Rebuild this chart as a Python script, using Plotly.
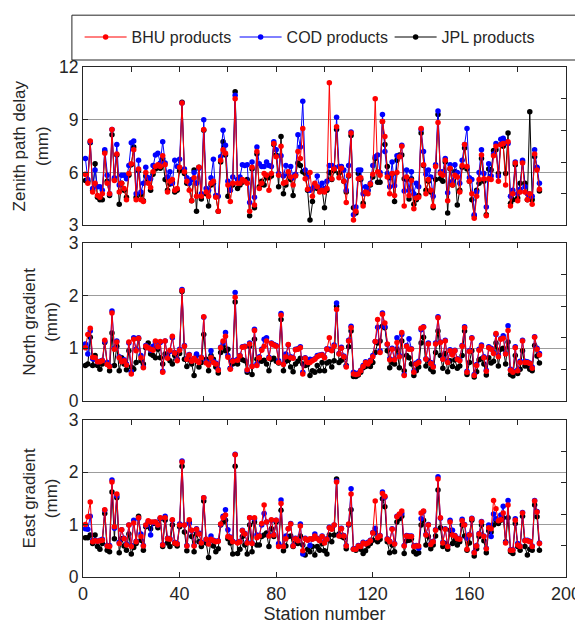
import plotly.graph_objects as go

# station index on the x axis
station = list(range(1, 190))

# Zenith path delay (mm)
zpd_bhu = [5.9, 5.4, 7.8, 4.9, 5.4, 4.7, 4.6, 4.8, 7.1, 5.4,
           4.8, 8.45, 5.55, 7.05, 4.9, 5.4, 5.1, 4.45, 5.95, 6.5,
           7.3, 4.45, 6.2, 4.45, 4.35, 6.0, 5.4, 5.15, 6.05, 6.35,
           6.45, 6.35, 6.95, 6.45, 4.9, 5.5, 5.6, 5.0, 5.1, 6.3,
           9.95, 6.05, 5.5, 5.0, 4.4, 5.7, 4.65, 6.3, 4.65, 8.45,
           4.9, 4.65, 5.4, 5.5, 4.6, 3.8, 6.7, 7.3, 7.1, 5.3,
           4.35, 5.4, 10.2, 5.4, 5.4, 5.6, 5.5, 5.4, 3.8, 6.3,
           4.15, 7.2, 5.1, 5.4, 5.95, 5.85, 5.0, 5.95, 7.65, 6.9,
           5.85, 7.5, 5.4, 5.45, 6.05, 5.75, 5.3, 5.8, 7.2, 6.8,
           8.5, 5.65, 5.05, 6.0, 4.65, 5.4, 5.2, 4.9, 5.0, 4.9,
           5.1, 11.1, 5.65, 6.2, 8.6, 5.7, 6.25, 5.5, 4.3, 5.85,
           8.25, 3.3, 3.8, 5.65, 5.7, 4.1, 4.9, 4.8, 5.35, 5.9,
           10.2, 6.05, 5.85, 8.9, 8.05, 5.75, 4.8, 5.95, 4.7, 6.0,
           6.9, 7.5, 4.1, 5.75, 4.7, 5.55, 3.95, 4.55, 4.6, 8.5,
           6.45, 4.8, 5.6, 5.0, 4.1, 6.35, 8.85, 5.95, 5.85, 6.7,
           4.4, 6.25, 5.3, 5.85, 5.75, 4.9, 6.4, 7.6, 6.35, 5.5,
           4.8, 3.4, 4.65, 5.6, 7.0, 5.65, 3.55, 5.65, 5.6, 6.95,
           7.5, 5.5, 7.6, 7.65, 5.3, 7.75, 4.1, 4.8, 6.55, 4.4,
           4.9, 6.55, 4.9, 4.45, 4.8, 4.2, 7.05, 6.15, 5.05]
zpd_cod = [6.8, 5.6, 7.75, 5.1, 6.15, 5.2, 5.2, 5.0, 7.3, 5.85,
           4.8, 8.45, 5.7, 7.6, 5.3, 5.85, 5.85, 5.65, 6.4, 7.7,
           7.8, 4.8, 6.7, 4.9, 5.4, 6.3, 5.7, 5.65, 6.4, 7.0,
           7.1, 6.55, 7.75, 6.55, 5.75, 6.05, 5.4, 6.7, 6.35, 6.75,
           9.95, 6.2, 5.7, 5.4, 5.6, 6.0, 5.4, 6.25, 4.8, 9.0,
           5.1, 5.0, 5.7, 6.75, 4.7, 4.65, 6.9, 8.4, 7.55, 5.5,
           5.0, 5.75, 10.4, 5.6, 5.75, 6.45, 6.4, 6.45, 4.3, 6.6,
           4.6, 7.45, 6.5, 6.35, 6.35, 6.6, 6.4, 6.35, 7.75, 7.3,
           5.95, 6.95, 5.8, 6.4, 5.95, 6.35, 5.7, 5.9, 8.15, 7.45,
           10.05, 6.15, 5.75, 5.0, 5.1, 5.3, 5.8, 5.15, 5.4, 5.1,
           5.5, 6.4, 6.4, 6.3, 9.15, 6.35, 6.35, 6.15, 5.0, 6.4,
           8.3, 3.6, 4.05, 6.15, 6.15, 4.8, 5.2, 5.0, 5.4, 6.4,
           6.9, 7.0, 6.0, 9.3, 7.2, 5.95, 5.2, 6.6, 5.25, 6.95,
           6.9, 7.55, 4.95, 6.15, 5.0, 6.05, 4.8, 5.4, 5.2, 8.45,
           7.2, 5.9, 6.15, 5.75, 4.65, 6.45, 9.5, 6.05, 6.05, 6.8,
           4.85, 6.45, 5.5, 6.45, 6.0, 5.4, 6.7, 7.6, 8.5, 5.7,
           5.6, 3.6, 4.9, 6.0, 7.3, 5.95, 4.05, 6.5, 5.8, 7.05,
           7.65, 5.8, 7.9, 7.95, 7.75, 7.65, 4.65, 5.0, 6.6, 4.8,
           5.05, 6.7, 5.2, 4.8, 4.65, 4.65, 7.3, 6.3, 5.4]
zpd_jpl = [5.55, 5.5, 7.7, 5.0, 6.5, 4.6, 4.45, 4.45, 7.2, 5.5,
           4.7, 8.15, 5.6, 7.0, 4.2, 5.4, 5.0, 4.6, 5.85, 6.45,
           7.45, 4.6, 6.1, 4.75, 4.4, 5.8, 5.6, 5.0, 5.9, 6.2,
           6.3, 6.25, 6.8, 5.6, 5.0, 5.35, 5.45, 4.9, 5.0, 6.1,
           10.0, 5.95, 5.4, 5.4, 4.4, 6.15, 3.8, 6.3, 4.5, 8.4,
           4.8, 4.1, 5.3, 5.4, 4.65, 3.8, 6.6, 7.75, 7.0, 4.65,
           5.0, 5.3, 10.6, 5.1, 5.3, 5.45, 5.5, 5.6, 3.55, 6.2,
           4.0, 7.05, 5.2, 5.5, 5.3, 5.7, 5.7, 5.8, 7.6, 7.0,
           5.2, 8.05, 4.8, 5.3, 5.9, 5.6, 4.7, 5.85, 6.55, 6.4,
           6.05, 5.95, 5.0, 3.3, 4.35, 5.2, 5.1, 5.05, 5.05, 4.0,
           5.0, 6.0, 5.6, 6.1, 8.45, 5.95, 6.1, 5.5, 4.9, 5.8,
           8.1, 4.0, 3.7, 5.95, 5.6, 4.25, 4.85, 5.0, 5.3, 5.75,
           6.8, 5.45, 5.45, 8.9, 7.6, 6.35, 5.7, 5.9, 4.35, 6.7,
           7.0, 7.0, 5.65, 5.6, 4.5, 5.65, 4.2, 4.45, 4.7, 8.25,
           6.4, 5.0, 5.5, 4.9, 4.0, 5.6, 9.3, 5.65, 5.5, 6.6,
           3.7, 6.2, 5.3, 6.05, 4.15, 5.0, 6.3, 7.4, 6.2, 5.5,
           4.45, 3.55, 5.0, 5.4, 6.8, 5.5, 3.6, 6.2, 6.15, 7.25,
           7.3, 5.95, 7.6, 7.5, 5.95, 8.25, 4.25, 4.45, 6.45, 4.55,
           5.4, 6.6, 5.4, 4.45, 9.45, 4.45, 6.9, 6.25, 4.95]

# North gradient (mm)
ng_bhu = [1.01, 1.26, 1.38, 0.83, 0.82, 0.74, 0.74, 0.76, 1.15, 0.69,
          0.65, 1.67, 0.98, 1.12, 0.82, 0.74, 0.76, 0.68, 1.12, 0.51,
          1.17, 0.95, 1.19, 0.82, 0.63, 1.04, 1.01, 0.98, 0.96, 1.14,
          1.03, 1.13, 0.54, 1.14, 0.81, 0.96, 1.23, 0.91, 0.76, 0.96,
          2.1, 1.04, 0.79, 0.87, 0.75, 0.81, 0.76, 0.73, 0.82, 1.6,
          0.72, 0.68, 0.82, 0.73, 0.7, 0.58, 1.01, 1.14, 1.23, 0.83,
          0.6, 0.75, 1.97, 0.77, 0.85, 1.02, 1.03, 0.59, 1.08, 0.65,
          1.34, 0.67, 0.82, 0.96, 1.04, 1.14, 0.81, 1.09, 1.06, 1.04,
          0.73, 1.63, 0.69, 0.84, 1.07, 0.82, 0.81, 0.97, 0.98, 1.01,
          0.51, 0.81, 0.73, 0.73, 0.76, 0.79, 0.84, 0.86, 0.87, 0.82,
          0.98, 1.2, 0.95, 1.04, 1.74, 0.89, 1.0, 0.84, 0.64, 1.14,
          1.39, 0.51, 0.5, 0.51, 0.57, 0.65, 0.73, 0.7, 0.75, 0.84,
          1.13, 1.55, 0.92, 1.65, 1.48, 1.08, 0.78, 0.98, 0.78, 1.11,
          0.84, 1.3, 0.48, 1.04, 0.98, 0.98, 0.54, 0.7, 0.73, 1.38,
          1.4, 0.79, 1.08, 0.71, 0.64, 1.08, 1.58, 1.11, 0.79, 1.14,
          0.73, 0.95, 0.87, 0.95, 0.79, 0.76, 1.04, 1.39, 0.54, 0.94,
          1.19, 0.48, 0.67, 0.96, 1.04, 0.82, 0.56, 1.01, 0.98, 0.9,
          1.28, 0.84, 1.17, 1.19, 0.89, 1.34, 0.58, 0.54, 1.01, 0.57,
          0.73, 1.14, 0.73, 0.73, 0.71, 0.62, 1.21, 0.98, 0.87]
ng_cod = [1.08, 0.89, 1.33, 0.8, 0.79, 0.74, 0.75, 0.77, 1.13, 0.73,
          0.66, 1.71, 1.0, 1.14, 0.84, 0.75, 0.78, 0.7, 1.1, 0.55,
          1.2, 0.98, 1.2, 0.86, 0.64, 1.05, 1.02, 0.96, 1.04, 1.12,
          1.03, 1.11, 0.56, 1.14, 0.83, 0.94, 1.2, 0.92, 0.78, 0.98,
          2.12, 1.05, 0.8, 0.88, 0.76, 0.8, 0.89, 0.74, 0.83, 1.59,
          0.74, 0.7, 0.95, 0.75, 0.72, 0.6, 1.02, 1.1, 1.3, 0.86,
          0.62, 0.77, 2.06, 0.79, 0.86, 1.03, 1.04, 0.58, 1.1, 0.66,
          1.36, 0.7, 0.84, 0.98, 1.17, 1.2, 0.83, 1.1, 1.07, 1.05,
          0.76, 1.66, 0.7, 0.89, 1.06, 0.84, 0.82, 0.98, 0.99, 1.03,
          0.54, 0.82, 0.75, 0.79, 0.78, 0.8, 0.86, 0.87, 0.88, 0.83,
          0.99, 0.98, 0.96, 1.06, 1.86, 0.9, 1.02, 0.85, 0.66, 1.15,
          1.42, 0.54, 0.52, 0.53, 0.58, 0.67, 0.74, 0.72, 0.77, 0.86,
          1.13, 1.4, 0.95, 1.67, 1.41, 1.07, 0.8, 1.0, 0.79, 1.2,
          0.86, 1.26, 0.5, 1.05, 1.18, 0.99, 0.56, 0.72, 0.75, 1.35,
          1.41, 0.8, 1.1, 0.73, 0.66, 1.1, 1.6, 1.12, 0.8, 1.15,
          0.75, 0.97, 0.9, 0.96, 0.8, 0.78, 1.05, 1.41, 0.56, 0.95,
          1.2, 0.5, 0.69, 0.98, 1.06, 0.84, 0.58, 1.03, 1.0, 0.92,
          1.26, 0.86, 1.18, 1.24, 0.9, 1.43, 0.6, 0.56, 1.03, 0.59,
          0.75, 1.15, 0.75, 0.74, 0.72, 0.64, 1.22, 1.0, 0.9]
ng_jpl = [0.67, 0.7, 1.21, 0.67, 0.86, 0.67, 0.6, 0.7, 1.11, 0.7,
          0.57, 1.29, 0.67, 1.04, 0.57, 0.82, 0.7, 0.59, 0.95, 0.64,
          0.6, 0.73, 1.18, 0.76, 0.7, 1.01, 1.1, 0.89, 0.86, 0.82,
          0.98, 0.82, 0.7, 0.89, 0.86, 0.76, 0.7, 0.86, 0.79, 0.9,
          2.08, 0.79, 0.65, 0.79, 0.7, 0.48, 0.87, 0.64, 0.73, 1.26,
          0.79, 0.57, 0.86, 0.79, 0.64, 0.53, 0.92, 1.04, 0.95, 0.98,
          0.62, 0.7, 1.88, 0.7, 0.82, 0.78, 0.76, 0.54, 1.04, 0.5,
          1.17, 0.79, 0.76, 0.75, 0.77, 0.7, 0.57, 0.79, 0.81, 0.75,
          0.72, 1.55, 0.57, 0.75, 0.77, 0.64, 0.55, 0.7, 0.75, 0.81,
          0.7, 0.67, 0.69, 0.48, 0.57, 0.54, 0.67, 0.57, 0.73, 0.57,
          0.72, 0.74, 0.64, 0.76, 1.8, 0.73, 0.77, 0.82, 0.67, 1.03,
          1.33, 0.46, 0.46, 0.49, 0.54, 0.63, 0.65, 0.67, 0.65, 0.73,
          0.92, 1.1, 1.14, 1.42, 1.39, 0.95, 0.63, 0.73, 0.7, 0.98,
          0.63, 1.14, 0.57, 0.86, 0.82, 0.7, 0.48, 0.57, 0.64, 1.1,
          1.21, 0.66, 0.76, 0.6, 0.55, 0.92, 1.33, 0.86, 0.62, 0.9,
          0.55, 0.76, 0.65, 0.78, 0.62, 0.66, 0.86, 1.33, 0.5, 0.73,
          0.95, 0.45, 0.55, 0.78, 0.8, 0.7, 0.49, 0.82, 0.72, 0.75,
          1.1, 0.66, 0.98, 1.0, 0.7, 1.12, 0.5, 0.47, 0.86, 0.52,
          0.6, 0.95, 0.66, 0.66, 0.6, 0.57, 1.05, 0.85, 0.72]

# East gradient (mm)
eg_bhu = [1.0, 1.15, 1.43, 0.67, 0.69, 0.68, 0.69, 0.7, 1.28, 0.59,
          0.58, 1.81, 0.96, 1.58, 0.64, 0.9, 0.73, 0.61, 0.99, 0.58,
          1.03, 0.67, 1.13, 0.77, 0.59, 0.99, 1.07, 1.05, 1.05, 1.05,
          0.99, 1.13, 0.61, 1.13, 0.73, 0.72, 1.09, 0.65, 0.63, 0.99,
          2.19, 0.99, 0.59, 1.09, 0.89, 0.59, 0.91, 0.82, 0.65, 1.51,
          0.72, 0.63, 0.72, 0.69, 0.67, 0.68, 1.01, 1.13, 1.18, 0.77,
          0.75, 0.67, 2.33, 0.65, 0.67, 0.88, 0.82, 0.65, 1.13, 0.64,
          1.13, 0.75, 0.78, 1.02, 1.37, 1.05, 0.78, 1.09, 0.8, 1.08,
          0.58, 1.4, 0.58, 0.73, 0.92, 1.01, 0.59, 0.73, 0.69, 0.97,
          0.5, 0.73, 0.7, 0.73, 0.72, 0.78, 0.73, 0.69, 0.77, 0.65,
          0.72, 0.94, 0.91, 0.99, 1.81, 0.78, 0.92, 0.78, 0.59, 1.01,
          1.58, 0.53, 0.53, 0.59, 0.58, 0.65, 0.63, 0.65, 0.69, 0.84,
          1.45, 0.75, 0.78, 1.59, 1.54, 0.72, 0.67, 0.91, 0.63, 1.15,
          1.2, 1.26, 0.59, 0.78, 0.77, 0.77, 0.58, 0.59, 0.59, 1.22,
          1.26, 0.8, 0.99, 0.62, 0.67, 0.89, 1.87, 1.13, 0.65, 0.91,
          0.58, 1.05, 0.8, 0.78, 0.73, 0.72, 1.07, 0.99, 0.53, 0.8,
          1.11, 0.46, 0.59, 0.82, 1.05, 0.77, 0.54, 0.94, 0.92, 1.46,
          1.3, 1.07, 1.09, 1.22, 0.65, 1.37, 0.51, 0.51, 1.08, 0.61,
          0.58, 1.22, 0.69, 0.69, 0.67, 0.58, 1.45, 1.24, 0.64]
eg_cod = [0.92, 0.91, 1.16, 0.69, 0.7, 0.68, 0.7, 0.72, 1.27, 0.6,
          0.6, 1.85, 0.93, 1.55, 0.66, 0.9, 0.74, 0.63, 0.99, 0.6,
          1.08, 0.68, 1.12, 0.82, 0.6, 0.98, 1.06, 0.8, 1.04, 1.05,
          0.99, 1.12, 0.62, 1.16, 0.74, 0.73, 1.08, 0.66, 0.64, 1.01,
          2.21, 0.99, 0.6, 1.02, 0.88, 0.6, 0.92, 0.84, 0.66, 1.51,
          0.72, 0.64, 0.78, 0.7, 0.68, 0.69, 1.0, 1.16, 1.28, 0.9,
          0.76, 0.68, 2.34, 0.66, 0.68, 0.89, 0.83, 0.66, 1.13, 0.65,
          1.11, 0.8, 0.79, 0.99, 1.21, 1.05, 0.79, 1.08, 0.81, 1.08,
          0.64, 1.47, 0.59, 0.78, 0.92, 1.02, 0.6, 0.74, 0.7, 1.01,
          0.44, 0.74, 0.71, 0.6, 0.73, 0.82, 0.74, 0.7, 0.78, 0.66,
          0.73, 0.95, 0.92, 0.99, 1.83, 0.79, 0.93, 0.79, 0.6, 1.0,
          1.68, 0.54, 0.54, 0.6, 0.59, 0.66, 0.64, 0.66, 0.7, 0.85,
          0.93, 0.76, 0.79, 1.62, 1.52, 0.73, 0.68, 0.92, 0.64, 1.16,
          1.19, 1.21, 0.6, 0.79, 0.78, 0.78, 0.59, 0.6, 0.55, 1.11,
          1.25, 0.81, 1.0, 0.63, 0.68, 0.9, 1.91, 1.12, 0.66, 0.92,
          0.59, 1.08, 0.89, 0.79, 0.74, 0.73, 1.1, 1.0, 0.74, 0.81,
          1.12, 0.47, 0.6, 0.83, 1.06, 0.78, 0.55, 0.99, 0.77, 1.2,
          1.11, 1.08, 1.18, 1.35, 0.66, 1.46, 0.52, 0.52, 1.11, 0.64,
          0.59, 1.23, 0.7, 0.7, 0.68, 0.59, 1.46, 1.25, 0.65]
eg_jpl = [0.75, 0.75, 0.8, 0.64, 0.8, 0.58, 0.53, 0.64, 1.21, 0.51,
          0.48, 1.62, 0.73, 1.51, 0.46, 0.73, 0.59, 0.51, 0.82, 0.44,
          0.56, 0.64, 1.16, 0.7, 0.51, 0.96, 1.03, 0.92, 1.02, 1.03,
          0.94, 1.11, 0.58, 1.08, 0.65, 0.58, 0.99, 0.64, 0.59, 0.96,
          2.11, 0.86, 0.5, 1.05, 0.77, 0.48, 0.82, 0.67, 0.58, 1.45,
          0.65, 0.37, 0.7, 0.59, 0.48, 0.54, 0.99, 1.05, 1.08, 0.73,
          0.65, 0.44, 2.11, 0.45, 0.53, 0.77, 0.61, 0.44, 0.99, 0.48,
          1.05, 0.61, 0.61, 0.77, 0.8, 0.84, 0.58, 0.92, 0.77, 1.05,
          0.61, 1.27, 0.5, 0.59, 0.77, 0.78, 0.58, 0.65, 0.64, 0.78,
          0.61, 0.42, 0.53, 0.48, 0.58, 0.42, 0.58, 0.51, 0.64, 0.5,
          0.44, 0.8, 0.67, 0.8, 1.87, 0.82, 0.77, 0.75, 0.54, 0.99,
          1.28, 0.53, 0.51, 0.56, 0.53, 0.45, 0.5, 0.59, 0.64, 0.7,
          0.86, 0.67, 0.72, 1.49, 1.34, 0.67, 0.46, 0.61, 0.48, 1.05,
          1.11, 1.16, 0.45, 0.69, 0.7, 0.73, 0.48, 0.44, 0.46, 0.99,
          1.08, 0.61, 0.77, 0.54, 0.61, 0.78, 1.66, 0.94, 0.58, 0.64,
          0.53, 0.89, 0.64, 0.7, 0.61, 0.67, 0.99, 0.78, 0.51, 0.65,
          1.08, 0.4, 0.54, 0.77, 0.99, 0.69, 0.46, 0.88, 0.86, 0.99,
          1.08, 1.02, 1.08, 1.13, 0.67, 1.13, 0.48, 0.45, 1.02, 0.58,
          0.51, 1.16, 0.58, 0.42, 0.53, 0.51, 1.37, 1.15, 0.51]

for arr in [zpd_bhu, zpd_cod, zpd_jpl, ng_bhu, ng_cod, ng_jpl, eg_bhu, eg_cod, eg_jpl]:
    assert len(arr) == len(station), len(arr)

font = "Liberation Sans, Arial, sans-serif"
ink = "#262626"
grid = "#9c9c9c"

panels = [
    dict(data=(zpd_jpl, zpd_cod, zpd_bhu), title="Zenith path delay<br>(mm)",
         yrange=[3, 12], ytick=[3, 6, 9, 12], xtick=[0, 50, 100, 150, 200], dom=[0.6895, 1.0]),
    dict(data=(ng_jpl, ng_cod, ng_bhu), title="North gradient<br>(mm)",
         yrange=[0, 3], ytick=[0, 1, 2, 3], xtick=[0, 50, 100, 150, 200], dom=[0.3457, 0.6543]),
    dict(data=(eg_jpl, eg_cod, eg_bhu), title="East gradient<br>(mm)",
         yrange=[0, 3], ytick=[0, 1, 2, 3], xtick=[0, 40, 80, 120, 160, 200], dom=[0.0, 0.3086]),
]

series = [("JPL products", "#000000", 3), ("COD products", "#0000ff", 2), ("BHU products", "#ff0000", 1)]

fig = go.Figure()
layout = {}
for i, p in enumerate(panels):
    n = i + 1
    xa = "x" if n == 1 else f"x{n}"
    ya = "y" if n == 1 else f"y{n}"
    for vals, (name, color, rank) in zip(p["data"], series):
        fig.add_trace(go.Scatter(
            x=station, y=vals, xaxis=xa, yaxis=ya, name=name, mode="lines+markers",
            line=dict(color=color, width=1), marker=dict(color=color, size=5.5),
            showlegend=(n == 1), legendrank=rank, hoverinfo="skip"))
    # extra axes for the top / right tick marks
    ox, oy = f"x{n + 3}", f"y{n + 3}"
    fig.add_trace(go.Scatter(x=[], y=[], xaxis=ox, yaxis=oy, showlegend=False, hoverinfo="skip"))

    kx = "xaxis" if n == 1 else f"xaxis{n}"
    ky = "yaxis" if n == 1 else f"yaxis{n}"
    layout[kx] = dict(range=[0, 200], tickvals=p["xtick"], ticks="inside", ticklen=5, tickcolor=ink,
                      showline=True, linecolor=ink, linewidth=1, mirror=True, showgrid=False,
                      zeroline=False, anchor=ya, showticklabels=(n == 3), automargin=False,
                      tickfont=dict(size=18, color=ink, family=font))
    layout[ky] = dict(range=p["yrange"], tickvals=p["ytick"], ticks="inside", ticklen=5, tickcolor=ink,
                      showline=True, linecolor=ink, linewidth=1, mirror=True, showgrid=True,
                      gridcolor=grid, gridwidth=1, zeroline=False, anchor=xa, domain=p["dom"],
                      automargin=False, tickfont=dict(size=17.5, color=ink, family=font),
                      title=dict(text=p["title"], font=dict(size=17, color=ink, family=font), standoff=6))
    layout[f"xaxis{n + 3}"] = dict(overlaying=xa, side="top", anchor=oy, range=[0, 200],
                                   tickvals=list(range(0, 201, 20)), ticks="inside", ticklen=5,
                                   tickcolor=ink, showticklabels=False, showline=False,
                                   showgrid=False, zeroline=False, automargin=False)
    layout[f"yaxis{n + 3}"] = dict(overlaying=ya, side="right", anchor=ox, range=[0, 5],
                                   tickvals=[1, 2, 3, 4], ticks="inside", ticklen=5,
                                   tickcolor=ink, showticklabels=False, showline=False,
                                   showgrid=False, zeroline=False, automargin=False)

layout["xaxis3"]["title"] = dict(text="Station number", font=dict(size=18, color=ink, family=font), standoff=0)

# the page body adds an 8 px offset, so the figure is 8 px smaller than the window
fig.update_layout(
    template="none",
    width=575, height=616,
    margin=dict(l=75, r=17, t=57, b=47),
    paper_bgcolor="white", plot_bgcolor="white",
    font=dict(family=font, color=ink),
    legend=dict(orientation="h", x=-0.007, y=1.0586, xanchor="left", yanchor="middle",
                font=dict(size=16, color=ink, family=font), bgcolor="rgba(0,0,0,0)",
                itemwidth=42, entrywidth=98, entrywidthmode="pixels"),
    shapes=[dict(type="rect", xref="paper", yref="paper", x0=-0.023, x1=1.025, y0=1.0137, y1=1.1016,
                 line=dict(color=ink, width=1), fillcolor="white", layer="below")],
    **layout,
)

fig.write_html("out.html")
